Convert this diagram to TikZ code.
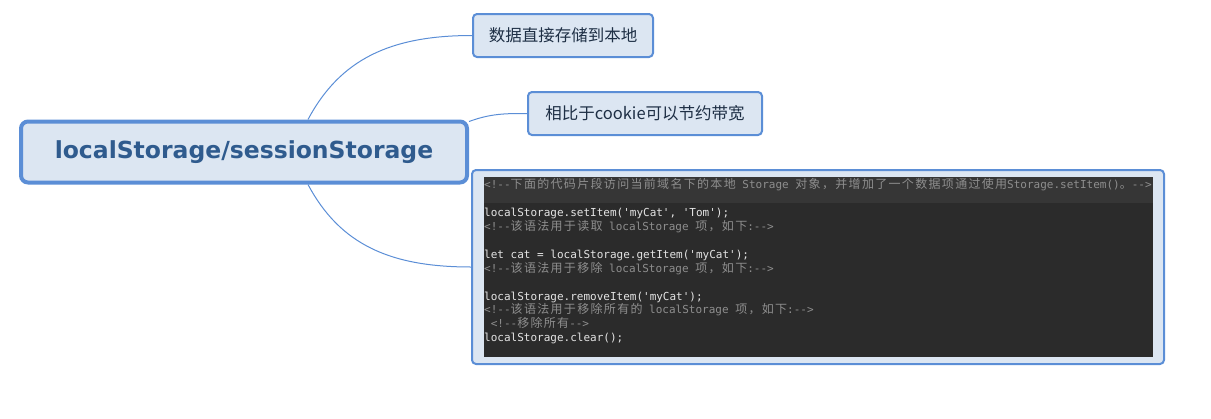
\documentclass[tikz,border=0pt]{standalone}
\usepackage{fontspec}
\setmainfont{DejaVu Sans}
\setmonofont{DejaVu Sans Mono}
\newfontfamily\cjk{Noto Sans CJK SC}
\newfontfamily\cjkcode[LetterSpace=11]{Noto Sans CJK SC}

\definecolor{mapline}{HTML}{5B8ED6}
\definecolor{mapfill}{HTML}{DCE6F2}
\definecolor{roottext}{HTML}{2F5B8E}
\definecolor{subtext}{HTML}{1E2F45}
\definecolor{codebgc}{HTML}{2B2B2B}
\definecolor{codeband}{HTML}{363636}
\definecolor{codefg}{HTML}{E4E4E4}
\definecolor{codecm}{HTML}{8E8E8E}

\newcommand{\zh}[1]{{\cjkcode\fontsize{12}{13.9}\selectfont #1}}
\newcommand{\cmt}[1]{{\color{codecm}#1}}

\tikzstyle{rootbox} = [rectangle, rounded corners=7pt, line width=4pt, draw=mapline, fill=mapfill, minimum width=446pt, minimum height=61pt, text=roottext, font=\fontsize{23.5}{28}\selectfont\bfseries]
\tikzstyle{subbox} = [rectangle, rounded corners=4pt, line width=2pt, draw=mapline, fill=mapfill, minimum height=43pt, text=subtext, font=\cjk\fontsize{16.5}{20}\selectfont]
\tikzstyle{branch} = [draw=mapline, line width=1pt]

\begin{document}
\begin{tikzpicture}[x=1pt, y=-1pt]
\useasboundingbox (0,0) rectangle (1211,418);

\node (root) [rootbox] at (244,152) {localStorage/sessionStorage};
\node (store) [subbox, minimum width=180pt] at (563,35.5) {数据直接存储到本地};
\node (save) [subbox, minimum width=234pt] at (645,113.5) {相比于cookie可以节约带宽};
\node (codebox) [subbox, minimum width=692pt, minimum height=194pt] at (818,267) {};
\node (codebg) [rectangle, fill=codebgc, inner sep=0pt, minimum width=669pt, minimum height=180pt] at (818.5,267) {};
\fill[codeband] (codebg.north west) rectangle ([yshift=-26pt]codebg.north east);

\node (code) [anchor=north west, inner sep=0pt, align=left, text=codefg, font=\ttfamily\fontsize{11}{13.9}\selectfont] at (484,178.5) {%
\cmt{<!--\zh{下面的代码片段访问当前域名下的本地} Storage \zh{对象，并增加了一个数据项通过使用}Storage.setItem()\zh{。}-->}\\
\mbox{}\\
localStorage.setItem('myCat', 'Tom');\\
\cmt{<!--\zh{该语法用于读取} localStorage \zh{项，如下}:-->}\\
\mbox{}\\
let cat = localStorage.getItem('myCat');\\
\cmt{<!--\zh{该语法用于移除} localStorage \zh{项，如下}:-->}\\
\mbox{}\\
localStorage.removeItem('myCat');\\
\cmt{<!--\zh{该语法用于移除所有的} localStorage \zh{项，如下}:-->}\\
\cmt{\hspace*{6.6pt}<!--\zh{移除所有}-->}\\
localStorage.clear();};

%\draw [branch] (root) -- (store);
\draw [branch] ([xshift=64pt]root.north) .. controls +(32,-60) and +(-82,0) .. (store.west);
\draw [branch] ([yshift=-2pt]root.north east) .. controls +(22,-8) and +(-22,0) .. (save.west);
\draw [branch] ([xshift=64pt]root.south) .. controls +(32,60) and +(-81,0) .. (codebox.west);
\end{tikzpicture}
\end{document}
